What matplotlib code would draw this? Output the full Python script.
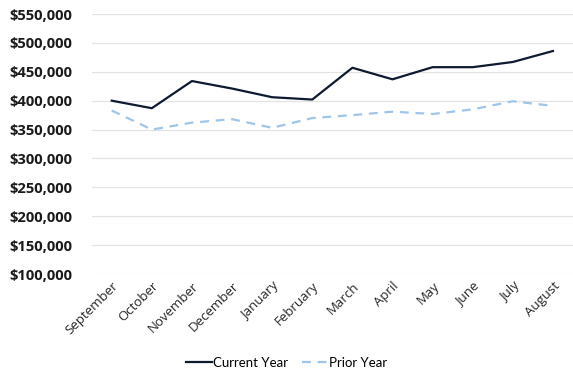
"""Monthly totals: current year vs prior year."""

import matplotlib

matplotlib.use("Agg")
import matplotlib.pyplot as plt  # noqa: E402
from matplotlib.ticker import FuncFormatter  # noqa: E402

months = ["September", "October", "November", "December", "January", "February",
          "March", "April", "May", "June", "July", "August"]
current_year = [400000, 387000, 434000, 421000, 406000, 402000,
                457000, 437000, 458000, 458000, 467000, 486000]
prior_year = [383000, 350000, 362000, 368000, 353000, 370000,
              375000, 381000, 377000, 385000, 399000, 391000]
y_ticks = list(range(100000, 550001, 50000))

plt.rcParams["font.family"] = ["Open Sans", "DejaVu Sans"]

fig = plt.figure(figsize=(5.73, 3.79), dpi=100)
ax = fig.add_axes([0.16, 0.277, 0.84, 0.686])

x = list(range(len(months)))
ax.plot(x, current_year, color="#0e1a30", linewidth=1.6, label="Current Year")
ax.plot(x, prior_year, color="#9fc5e8", linewidth=1.6, linestyle=(0, (4, 3)), label="Prior Year")

ax.set_xlim(-0.5, len(months) - 0.5)
ax.set_ylim(100000, 550000)
ax.set_yticks(y_ticks)
ax.yaxis.set_major_formatter(FuncFormatter(lambda v, _: f"${v:,.0f}"))
for lab in ax.get_yticklabels():
    lab.set_fontweight("bold")
    lab.set_fontsize(10.6)
    lab.set_color("#1a1a1a")

ax.set_xticks(x)
ax.set_xticklabels(months, rotation=45, ha="right", rotation_mode="anchor",
                   fontsize=9.5, color="#262626")

ax.grid(axis="y", color="#e3e3e3", linewidth=0.9)
ax.set_axisbelow(True)
for side in ax.spines.values():
    side.set_visible(False)
ax.tick_params(axis="both", length=0)
ax.tick_params(axis="y", pad=14)
ax.tick_params(axis="x", pad=4)

fig.legend(loc="center", bbox_to_anchor=(0.5, 0.042), ncol=2, frameon=False,
           prop={"family": ["Lato", "DejaVu Sans"], "size": 9.5},
           handlelength=2.0, columnspacing=1.0, handletextpad=0.1)

fig.savefig("out.png", dpi=100)
plt.close(fig)
